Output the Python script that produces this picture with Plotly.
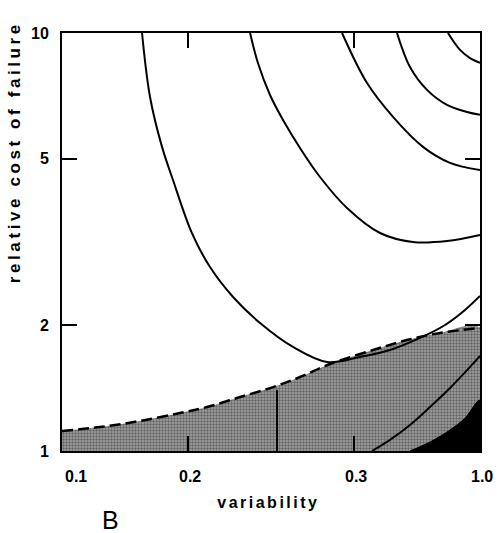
import math
import plotly.graph_objects as go

# ---- data ----
x_tick_vals = [0.1, 0.2, 0.5, 1.0]
x_tick_text = ["0.1", "0.2", "0.3", "1.0"]
y_tick_vals = [1, 2, 5, 10]
y_tick_text = ["1", "2", "5", "10"]

curve_a_x = [0.1554, 0.1624, 0.1735, 0.1843, 0.2046, 0.226, 0.2566, 0.2977, 0.357, 0.4305, 0.5164, 0.6091, 0.7186, 0.8247, 0.9208, 1.0]
curve_a_y = [10.0, 7.03, 5.34, 4.45, 3.32, 2.755, 2.336, 2.024, 1.774, 1.633, 1.679, 1.744, 1.864, 2.002, 2.175, 2.349]

curve_b_x = [0.2818, 0.2943, 0.3145, 0.3379, 0.371, 0.4142, 0.4807, 0.5766, 0.6914, 0.8338, 1.0]
curve_b_y = [10.0, 8.476, 7.106, 6.193, 5.308, 4.524, 3.814, 3.323, 3.162, 3.179, 3.287]

curve_c_x = [0.4677, 0.5368, 0.6193, 0.7305, 0.8476, 1.0]
curve_c_y = [10.0, 7.59, 6.30, 5.34, 4.89, 4.70]

curve_d_x = [0.633, 0.68, 0.7468, 0.8338, 0.931, 1.0]
curve_d_y = [10.0, 8.29, 7.31, 6.73, 6.47, 6.37]

curve_e_x = [0.8383, 0.8958, 0.9465, 1.0]
curve_e_y = [10.0, 9.11, 8.71, 8.48]

boundary_x = [0.1, 0.1233, 0.1537, 0.1916, 0.2223, 0.2667, 0.3197, 0.371, 0.4377, 0.5548, 0.6689, 0.8023, 1.0]
boundary_y = [1.117, 1.141, 1.18, 1.233, 1.274, 1.346, 1.422, 1.503, 1.615, 1.744, 1.843, 1.916, 1.969]

inner_x = [0.5517, 0.6091, 0.68, 0.7593, 0.8476, 0.9465, 1.0]
inner_y = [1.0, 1.063, 1.154, 1.274, 1.415, 1.589, 1.688]

black_x = [0.68, 0.7593, 0.8476, 0.9208, 1.0]
black_y = [1.0, 1.051, 1.123, 1.199, 1.324]

divider_x = [0.3268, 0.3268]
divider_y = [1.0, 1.399]

X_MIN, X_MAX = 0.1, 1.0
Y_MIN, Y_MAX = 1.0, 10.0

fig = go.Figure()

# shaded (halftone) region under the dashed boundary
fig.add_trace(go.Scatter(
    x=boundary_x + [X_MAX, X_MIN], y=boundary_y + [Y_MIN, Y_MIN],
    fill="toself", mode="none", line=dict(shape="spline"),
    fillcolor="#9c9c9c",
    fillpattern=dict(shape=".", fgcolor="#262626", bgcolor="#a4a4a4", size=3, solidity=0.5),
    hoverinfo="skip", showlegend=False))

# black region
fig.add_trace(go.Scatter(
    x=black_x + [X_MAX], y=black_y + [Y_MIN],
    fill="toself", mode="lines", line=dict(color="black", width=1, shape="spline"),
    fillcolor="black", hoverinfo="skip", showlegend=False))

# inner line and divider inside shaded region
for xs, ys in [(inner_x, inner_y), (divider_x, divider_y)]:
    fig.add_trace(go.Scatter(x=xs, y=ys, mode="lines",
                             line=dict(color="black", width=2, shape="spline"),
                             hoverinfo="skip", showlegend=False))

# dashed boundary
fig.add_trace(go.Scatter(x=boundary_x, y=boundary_y, mode="lines",
                         line=dict(color="black", width=2.5, dash="11px,5px", shape="spline"),
                         hoverinfo="skip", showlegend=False))

# contour curves
for xs, ys in [(curve_a_x, curve_a_y), (curve_b_x, curve_b_y), (curve_c_x, curve_c_y),
               (curve_d_x, curve_d_y), (curve_e_x, curve_e_y)]:
    fig.add_trace(go.Scatter(x=xs, y=ys, mode="lines",
                             line=dict(color="black", width=2, shape="spline", smoothing=1.0),
                             hoverinfo="skip", showlegend=False))

tick_font = dict(family="Liberation Sans", size=16, color="black", weight="bold")

fig.update_xaxes(type="log", range=[math.log10(X_MIN), math.log10(X_MAX)],
                 tickvals=x_tick_vals, showticklabels=False,
                 ticks="inside", ticklen=15, tickwidth=2, tickcolor="black",
                 showline=True, linecolor="black", linewidth=2, mirror="ticks",
                 showgrid=False, zeroline=False)
fig.update_yaxes(type="log", range=[math.log10(Y_MIN), math.log10(Y_MAX)],
                 tickvals=y_tick_vals, ticktext=y_tick_text, tickfont=tick_font,
                 ticks="inside", ticklen=15, tickwidth=2, tickcolor="black",
                 ticklabelstandoff=8,
                 showline=True, linecolor="black", linewidth=2, mirror="ticks",
                 showgrid=False, zeroline=False)

annotations = []
for v, t in zip(x_tick_vals, x_tick_text):
    anchor = "left" if v == X_MIN else "center"
    annotations.append(dict(x=math.log10(v), y=0, xref="x", yref="paper",
                            text=t, showarrow=False, xanchor=anchor, yanchor="top",
                            xshift=(1 if v == X_MIN else 2), yshift=-15, font=tick_font))

annotations.append(dict(x=0.5, y=0, xref="paper", yref="paper", text="variability",
                        showarrow=False, xanchor="center", yanchor="middle", yshift=-51,
                        xshift=-3,
                        font=dict(family="Liberation Sans", size=16, color="black", weight="bold")))
annotations.append(dict(x=-0.115, y=0.715, xref="paper", yref="paper",
                        text="relative cost of failure", textangle=-90,
                        showarrow=False, xanchor="center", yanchor="middle",
                        font=dict(family="Liberation Sans", size=17, color="black", weight="bold")))
annotations.append(dict(x=(110 - 62) / 418, y=0, xref="paper", yref="paper", text="B",
                        showarrow=False, xanchor="center", yanchor="middle", yshift=-69,
                        font=dict(family="Liberation Sans", size=25, color="black")))

fig.update_layout(width=503, height=533,
                  margin=dict(l=62, r=23, t=33, b=82),
                  paper_bgcolor="white", plot_bgcolor="white",
                  annotations=annotations, showlegend=False)

post = """
var gd = document.getElementById('{plot_id}');
function spaceTitles(){
  gd.querySelectorAll('text.annotation-text').forEach(function(t){
    var s = t.textContent;
    if (s === 'variability') { t.style.letterSpacing = '2.5px'; }
    if (s === 'relative cost of failure') { t.style.letterSpacing = '3.6px'; }
  });
}
spaceTitles();
if (gd.on) { gd.on('plotly_afterplot', spaceTitles); }
"""

fig.write_html("out.html", post_script=post)
